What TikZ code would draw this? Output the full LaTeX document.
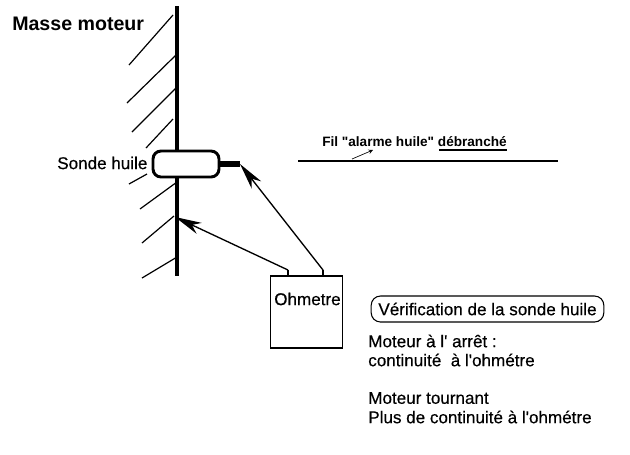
\documentclass[tikz,border=0pt]{standalone}
\usepackage{fontspec}
\setmainfont{Liberation Sans}[Ligatures=TeXOff]
\newfontfamily\heavyfont{Liberation Sans}[Ligatures=TeXOff, FakeBold=0.35]
\usepackage{tikz}
\usetikzlibrary{arrows.meta,positioning}
\tikzset{
  hatch/.style={line width=0.9pt},
  wire/.style={line width=1pt, -{Stealth[length=20pt,width=9pt,inset=6pt]}},
  txt/.style={inner sep=0pt, anchor=west, font=\heavyfont\fontsize{12.8}{15}\selectfont},
  txtbold/.style={inner sep=0pt, anchor=west, font=\fontsize{10.2}{13}\selectfont\bfseries}
}

\begin{document}
\begin{tikzpicture}[x=0.75pt, y=-0.75pt]
        \useasboundingbox (0, 0) rectangle (630, 454);

        % Wall
        \draw[line width=2.4pt] (177, 6) -- (177, 276);

        % Hatching
        \draw[hatch] (173, 15) -- (129, 65);
        \draw[hatch] (176, 55) -- (127, 103);
        \draw[hatch] (176, 88) -- (132, 132);
        \draw[hatch] (173, 119) -- (146, 148);
        \draw[hatch] (147, 174) -- (129, 184);
        \draw[hatch] (177, 182) -- (140, 209);
        \draw[hatch] (174, 216) -- (142, 243);
        \draw[hatch] (177, 257) -- (142, 278);

        % Sensor
        \node[draw, fill=white, line width=2.2pt, rounded corners=6pt, minimum width=49.5pt, minimum height=19.5pt, inner sep=0pt] (sonde) at (186, 164) {};
        \coordinate (stub) at (240, 164);
        \draw[line width=3.8pt] (sonde.east) -- (stub);
        \node[txt] (sondelabel) at (57, 163) {Sonde huile};
        \node[txtbold, font=\fontsize{14.7}{17}\selectfont\bfseries] (masse) at (12, 24) {Masse moteur};

        % Ohmmeter
        \node[draw, line width=1.4pt, minimum width=54pt, minimum height=54pt, inner sep=0pt] (ohmetre) at (306.5, 312) {};
        \node[txt] (ohmlabel) at (274, 299) {Ohmetre};
        \coordinate (pinA) at (288, 270);
        \coordinate (pinB) at (323, 270);
        \coordinate (masseptA) at (175, 217);
        \draw[line width=1pt] (pinA) -- (pinA |- ohmetre.north);
        \draw[line width=1pt] (pinB) -- (pinB |- ohmetre.north);
        \draw[wire] (pinA) -- (masseptA);
        \draw[wire] (pinB) -- (stub);

        % Disconnected wire
        \coordinate (filA) at (298, 161);
        \coordinate (filB) at (558, 161);
        \draw[line width=1.5pt] (filA) -- (filB);
        \node[txtbold] (fil) at (322, 142) {Fil "alarme huile" débranché};
        \coordinate (ulineA) at (439, 150);
        \coordinate (ulineB) at (507, 150);
        \draw[line width=0.8pt] (ulineA) -- (ulineB);
        \coordinate (filarrowA) at (352, 159);
        \coordinate (filarrowB) at (373, 150);
        \draw[->, >=stealth, line width=0.5pt] (filarrowA) -- (filarrowB);

        % Notes
        \node[draw, line width=0.8pt, rounded corners=7pt, minimum width=174.5pt, minimum height=19.5pt, inner sep=0pt, font=\heavyfont\fontsize{12.8}{15}\selectfont] (titre) at (487.5, 309) {Vérification de la sonde huile};
        \node[txt] (arret) at (368, 341) {Moteur à l' arrêt :};
        \node[txt] (contin) at (368, 360) {continuité\ \ à l'ohmétre};
        \node[txt] (tournant) at (368, 398) {Moteur tournant};
        \node[txt] (plus) at (368, 417) {Plus de continuité à l'ohmétre};
    \end{tikzpicture}
\end{document}
